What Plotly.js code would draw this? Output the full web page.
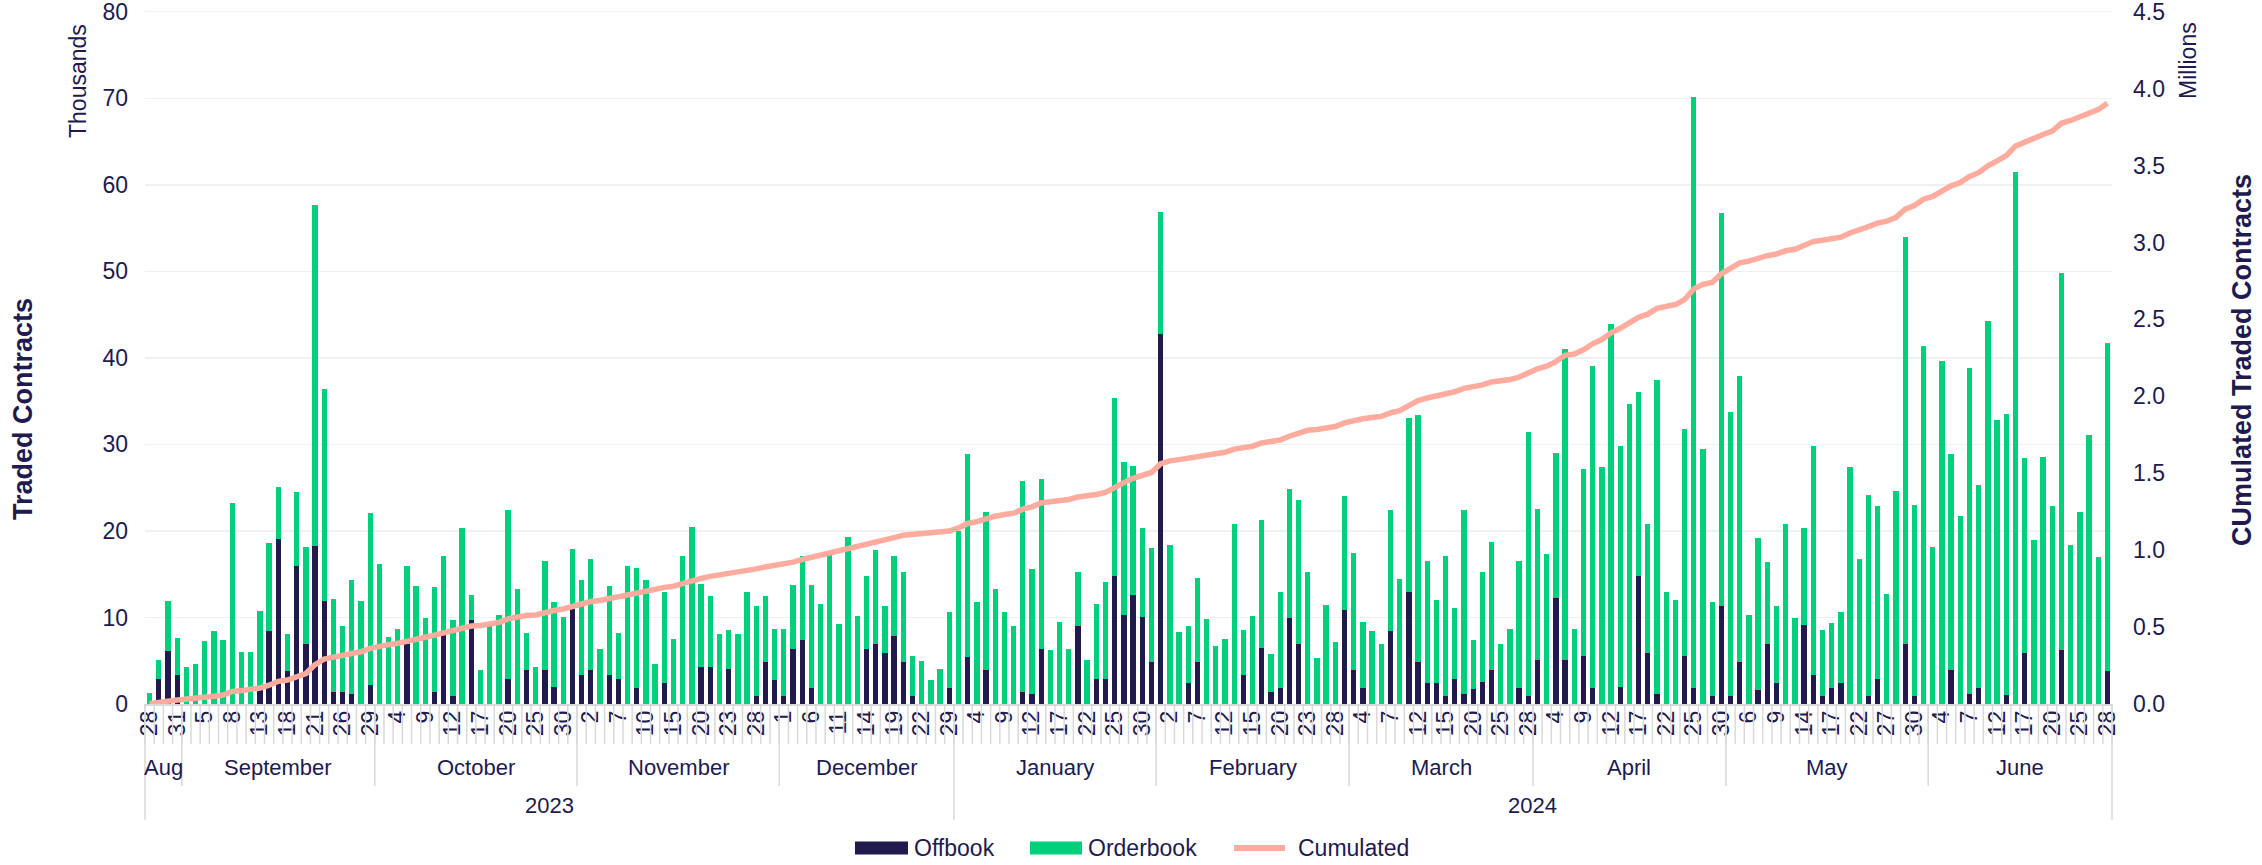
<!DOCTYPE html>
<html><head><meta charset="utf-8">
<script src="https://cdn.plot.ly/plotly-3.0.1.min.js"></script>
<style>html,body{margin:0;padding:0;background:#fff}#chart{width:2262px;height:865px}</style>
</head><body><div id="chart"></div>
<script>
// ---------- data ----------
const months = ['Aug','September','October','November','December','January','February','March','April','May','June'];
const monthNumbers = [8,9,10,11,12,1,2,3,4,5,6];
const monthYears = ['2023','2023','2023','2023','2023','2024','2024','2024','2024','2024','2024'];
const years = ['2023','2024'];
const monthDays = [
 [28,29,30,31],
 [1,4,5,6,7,8,11,12,13,14,15,18,19,20,21,22,25,26,27,28,29],
 [2,3,4,5,6,9,10,11,12,13,16,17,18,19,20,23,24,25,26,27,30,31],
 [1,2,3,6,7,8,9,10,13,14,15,16,17,20,21,22,23,24,27,28,29,30],
 [1,4,5,6,7,8,11,12,13,14,15,18,19,20,21,22,27,28,29],
 [2,3,4,5,8,9,10,11,12,15,16,17,18,19,22,23,24,25,26,29,30,31],
 [1,2,5,6,7,8,9,12,13,14,15,16,19,20,21,22,23,26,27,28,29],
 [1,4,5,6,7,8,11,12,13,14,15,18,19,20,21,22,25,26,27,28],
 [2,3,4,5,8,9,10,11,12,15,16,17,18,19,22,23,24,25,26,29,30],
 [2,3,6,7,8,9,10,13,14,15,16,17,20,21,22,23,24,27,28,29,30,31],
 [3,4,5,6,7,10,11,12,13,14,17,18,19,20,21,24,25,26,27,28]
];
const seriesNames = ['Offbook','Orderbook','Cumulated'];
// thousands of contracts per trading day
const offbook = [
 0,2.9,6.1,3.3,0,0,0,0,0,0,
 0,0,1.6,8.4,19.1,3.8,15.9,6.9,18.3,11.9,
 1.4,1.4,1.1,0,2.2,0,0,0,6.9,0,
 0,1.4,8.0,0.9,0,9.7,0,0,0,2.9,
 0,3.9,0,3.9,2.0,0,11.0,3.4,3.9,0,
 3.4,2.9,0,1.9,0,0,2.4,0,0,0,
 4.3,4.3,0,4.0,0,0,0.9,4.9,2.8,0.9,
 6.3,7.4,1.9,0,0,0,0,0,6.4,6.9,
 5.9,7.9,4.9,0.9,0,0,0,1.9,0,5.4,
 0,3.9,0,0,0,1.4,1.2,6.3,0,0,
 0,9.0,0,2.9,2.9,14.8,10.3,12.6,10.1,4.9,
 42.8,0,0,2.4,4.9,0,0,0,0,3.3,
 0,6.5,1.4,1.9,9.9,6.9,0,0,0,0,
 10.9,3.9,1.9,0,0,8.4,0,13.0,4.8,2.4,
 2.4,0.9,2.9,1.2,1.7,2.5,3.9,0,0,1.9,
 0.9,5.1,0,12.3,5.1,0,5.5,1.9,0,0,
 2.0,0,14.8,5.9,1.2,0,0,5.6,1.9,0,
 0.9,11.3,0.9,4.9,0,1.6,6.9,2.4,0,0,
 9.1,3.4,0.9,1.9,2.4,0,0,0.9,2.9,0,
 0,6.9,0.9,0,0,0,3.9,0,1.1,1.8,
 0,0,1.0,0,5.9,0,0,0,6.2,0,
 0,0,0,3.8
];
const orderbook = [
 1.3,2.2,5.8,4.3,4.3,4.6,7.3,8.4,7.4,23.2,
 6.0,6.0,9.1,10.2,6.0,4.3,8.6,11.3,39.4,24.5,
 10.7,7.6,13.2,11.9,19.9,16.2,7.7,8.7,9.1,13.6,
 9.9,12.1,9.1,8.8,20.3,2.9,3.9,9.5,10.3,19.5,
 13.3,4.3,4.3,12.6,9.8,10.1,6.9,10.9,12.8,6.4,
 10.2,5.3,16.0,13.8,14.3,4.6,10.6,7.5,17.1,20.4,
 9.6,8.2,8.1,4.5,8.1,13.0,10.4,7.6,5.9,7.8,
 7.4,9.7,11.8,11.6,17.3,9.2,19.3,10.2,8.4,10.9,
 5.4,9.2,10.3,4.6,5.0,2.8,4.0,8.7,20.0,23.5,
 11.8,18.3,13.3,10.6,9.0,24.4,14.4,19.7,6.2,9.5,
 6.3,6.3,5.1,8.6,11.2,20.6,17.7,14.9,10.2,13.1,
 14.1,18.4,8.3,6.6,9.7,9.8,6.7,7.5,20.8,5.2,
 10.2,14.8,4.4,11.0,15.0,16.7,15.2,5.3,11.4,7.2,
 13.1,13.5,7.6,8.4,6.9,14.0,14.4,20.1,28.6,14.1,
 9.6,16.2,8.2,21.2,5.7,12.7,14.8,6.9,8.7,14.6,
 30.5,17.4,17.3,16.7,35.9,8.7,21.6,37.2,27.4,43.9,
 27.8,34.7,21.2,14.9,36.3,13.0,12.0,26.2,68.2,29.5,
 10.9,45.4,32.9,33.0,10.3,17.6,9.5,8.9,20.8,9.9,
 11.2,26.4,7.6,7.5,8.2,27.4,16.8,23.2,20.0,12.7,
 24.6,47.1,22.1,41.4,18.1,39.6,25.0,21.7,37.7,23.5,
 44.3,32.8,32.5,61.5,22.5,18.9,28.6,22.9,43.6,18.4,
 22.2,31.1,17.0,37.9
];
const leftTicks = [0,10,20,30,40,50,60,70,80];
const rightTicks = [0,0.5,1,1.5,2,2.5,3,3.5,4,4.5];

// ---------- derived ----------
const NAVY = '#201a4f', GREEN = '#00cf7c', SALMON = '#ffab9d', GRIDC = '#f0f0f0', AXC = '#d9d9d9';
const FONT = 'Liberation Sans, Arial, Helvetica, sans-serif';
const dates = [], dayText = [], monthStart = [], monthEnd = [];
months.forEach((m, k) => {
  monthStart.push(dates.length);
  monthDays[k].forEach(d => {
    const mm = String(monthNumbers[k]).padStart(2,'0'), dd = String(d).padStart(2,'0');
    dates.push(monthYears[k] + '-' + mm + '-' + dd);
    dayText.push(String(d));
  });
  monthEnd.push(dates.length - 1);
});
const N = dates.length;
const cumulated = [];
let run = 0;
for (let i = 0; i < N; i++) { run += offbook[i] + orderbook[i]; cumulated.push(run / 1000); }
const tickIdx = [];
for (let i = 0; i < N; i += 3) tickIdx.push(i);

// plot area geometry in px (for paper-relative helpers)
const W = 2262, H = 865, mL = 145, mR = 150, mT = 10, mB = 161;
const plotW = W - mL - mR, plotH = H - mT - mB;
const pxBelow = px => -px / plotH;
const paperX = px => (px - mL) / plotW;
const paperY = py => (H - mB - py) / plotH;
const idxToPaper = b => (b + 0.5) / N;
const yTop = 80.2, y2Top = 4.5 * yTop / 80;

const shapes = [];
for (let b = -0.5; b <= N - 0.5 + 1e-9; b += 1) {
  shapes.push({type:'line', xref:'paper', yref:'paper', x0:idxToPaper(b), x1:idxToPaper(b), y0:0, y1:pxBelow(40), line:{color:AXC, width:1.5}});
}
const yearStart = years.map(y => monthStart[monthYears.indexOf(y)]);
const monthBounds = monthStart.map(s => s - 0.5).concat([N - 0.5]);
monthBounds.forEach(b => {
  const isYear = b === -0.5 || b === N - 0.5 || yearStart.includes(b + 0.5);
  shapes.push({type:'line', xref:'paper', yref:'paper', x0:idxToPaper(b), x1:idxToPaper(b), y0:0, y1:pxBelow(isYear ? 116 : 82), line:{color:AXC, width:1.5}});
});

const annotations = [];
months.forEach((m, k) => {
  annotations.push({xref:'x', yref:'paper', x:(monthStart[k] + monthEnd[k]) / 2, y:pxBelow(63), text:m, showarrow:false, xanchor:'center', yanchor:'middle', font:{size:22, color:NAVY, family:FONT}});
});
years.forEach(y => {
  const ks = monthYears.map((v,k)=>v===y?k:-1).filter(k=>k>=0);
  const s = monthStart[ks[0]], e = monthEnd[ks[ks.length-1]];
  annotations.push({xref:'x', yref:'paper', x:(s + e) / 2, y:pxBelow(101), text:y, showarrow:false, xanchor:'center', yanchor:'middle', font:{size:22, color:NAVY, family:FONT}});
});
annotations.push({xref:'paper', yref:'paper', x:paperX(78), y:paperY(81), text:'Thousands', textangle:-90, showarrow:false, xanchor:'center', yanchor:'middle', font:{size:23, color:NAVY, family:FONT}});
annotations.push({xref:'paper', yref:'paper', x:paperX(23), y:paperY(409), text:'<b>Traded Contracts</b>', textangle:-90, showarrow:false, xanchor:'center', yanchor:'middle', font:{size:27, color:NAVY, family:FONT}});
annotations.push({xref:'paper', yref:'paper', x:paperX(2188), y:paperY(61), text:'Millions', textangle:-90, showarrow:false, xanchor:'center', yanchor:'middle', font:{size:23, color:NAVY, family:FONT}});
annotations.push({xref:'paper', yref:'paper', x:paperX(2242), y:paperY(360), text:'<b>CUmulated Traded Contracts</b>', textangle:-90, showarrow:false, xanchor:'center', yanchor:'middle', font:{size:27, color:NAVY, family:FONT}});

// legend (drawn as keys + labels below the axis)
const legendY = 848;
const legendKeys = [
  {kind:'rect', color:NAVY, x0:855, x1:908, tx:912},
  {kind:'rect', color:GREEN, x0:1030, x1:1082, tx:1086},
  {kind:'line', color:SALMON, x0:1234, x1:1285, tx:1296}
];
legendKeys.forEach((k, j) => {
  if (k.kind === 'rect') {
    shapes.push({type:'rect', xref:'paper', yref:'paper', x0:paperX(k.x0), x1:paperX(k.x1), y0:paperY(legendY - 6.5), y1:paperY(legendY + 6.5), fillcolor:k.color, line:{width:0}});
  } else {
    shapes.push({type:'line', xref:'paper', yref:'paper', x0:paperX(k.x0), x1:paperX(k.x1), y0:paperY(legendY), y1:paperY(legendY), line:{color:k.color, width:6}});
  }
  annotations.push({xref:'paper', yref:'paper', x:paperX(k.tx), y:paperY(legendY), text:seriesNames[j], showarrow:false, xanchor:'left', yanchor:'middle', font:{size:23, color:NAVY, family:FONT}});
});

const traces = [
  {type:'bar', name:seriesNames[0], x:dates, y:offbook, marker:{color:NAVY, line:{width:0}}},
  {type:'bar', name:seriesNames[1], x:dates, y:orderbook, marker:{color:GREEN, line:{width:0}}},
  {type:'scatter', mode:'lines', name:seriesNames[2], x:dates, y:cumulated, yaxis:'y2', line:{color:SALMON, width:5.5}}
];

const layout = {
  width:W, height:H, margin:{l:mL, r:mR, t:mT, b:mB, autoexpand:false},
  paper_bgcolor:'#fff', plot_bgcolor:'#fff',
  font:{family:FONT, color:NAVY, size:22},
  barmode:'stack', bargap:0.42,
  showlegend:false,
  xaxis:{type:'category', categoryorder:'array', categoryarray:dates, range:[-0.5, N - 0.5], tickmode:'array', tickvals:tickIdx.map(i=>dates[i]), ticktext:tickIdx.map(i=>dayText[i]), tickangle:-90, ticks:'', ticklabelstandoff:-4, ticklabeloverflow:'allow', tickfont:{size:23, color:NAVY, family:FONT}, showgrid:false, showline:true, linecolor:AXC, linewidth:1.5, zeroline:false, fixedrange:true},
  yaxis:{range:[0,yTop], tickmode:'array', tickvals:leftTicks, ticks:'', ticklabelstandoff:16, ticklabeloverflow:'allow', tickfont:{size:23, color:NAVY, family:FONT}, showgrid:true, gridcolor:GRIDC, gridwidth:1.5, zeroline:false, showline:false, fixedrange:true},
  yaxis2:{overlaying:'y', side:'right', range:[0,y2Top], tickmode:'array', tickvals:rightTicks, tickformat:'.1f', ticks:'', ticklabelstandoff:20, ticklabeloverflow:'allow', tickfont:{size:23, color:NAVY, family:FONT}, showgrid:false, zeroline:false, showline:false, fixedrange:true},
  shapes:shapes, annotations:annotations
};
Plotly.newPlot('chart', traces, layout, {displayModeBar:false, staticPlot:true});
</script></body></html>
